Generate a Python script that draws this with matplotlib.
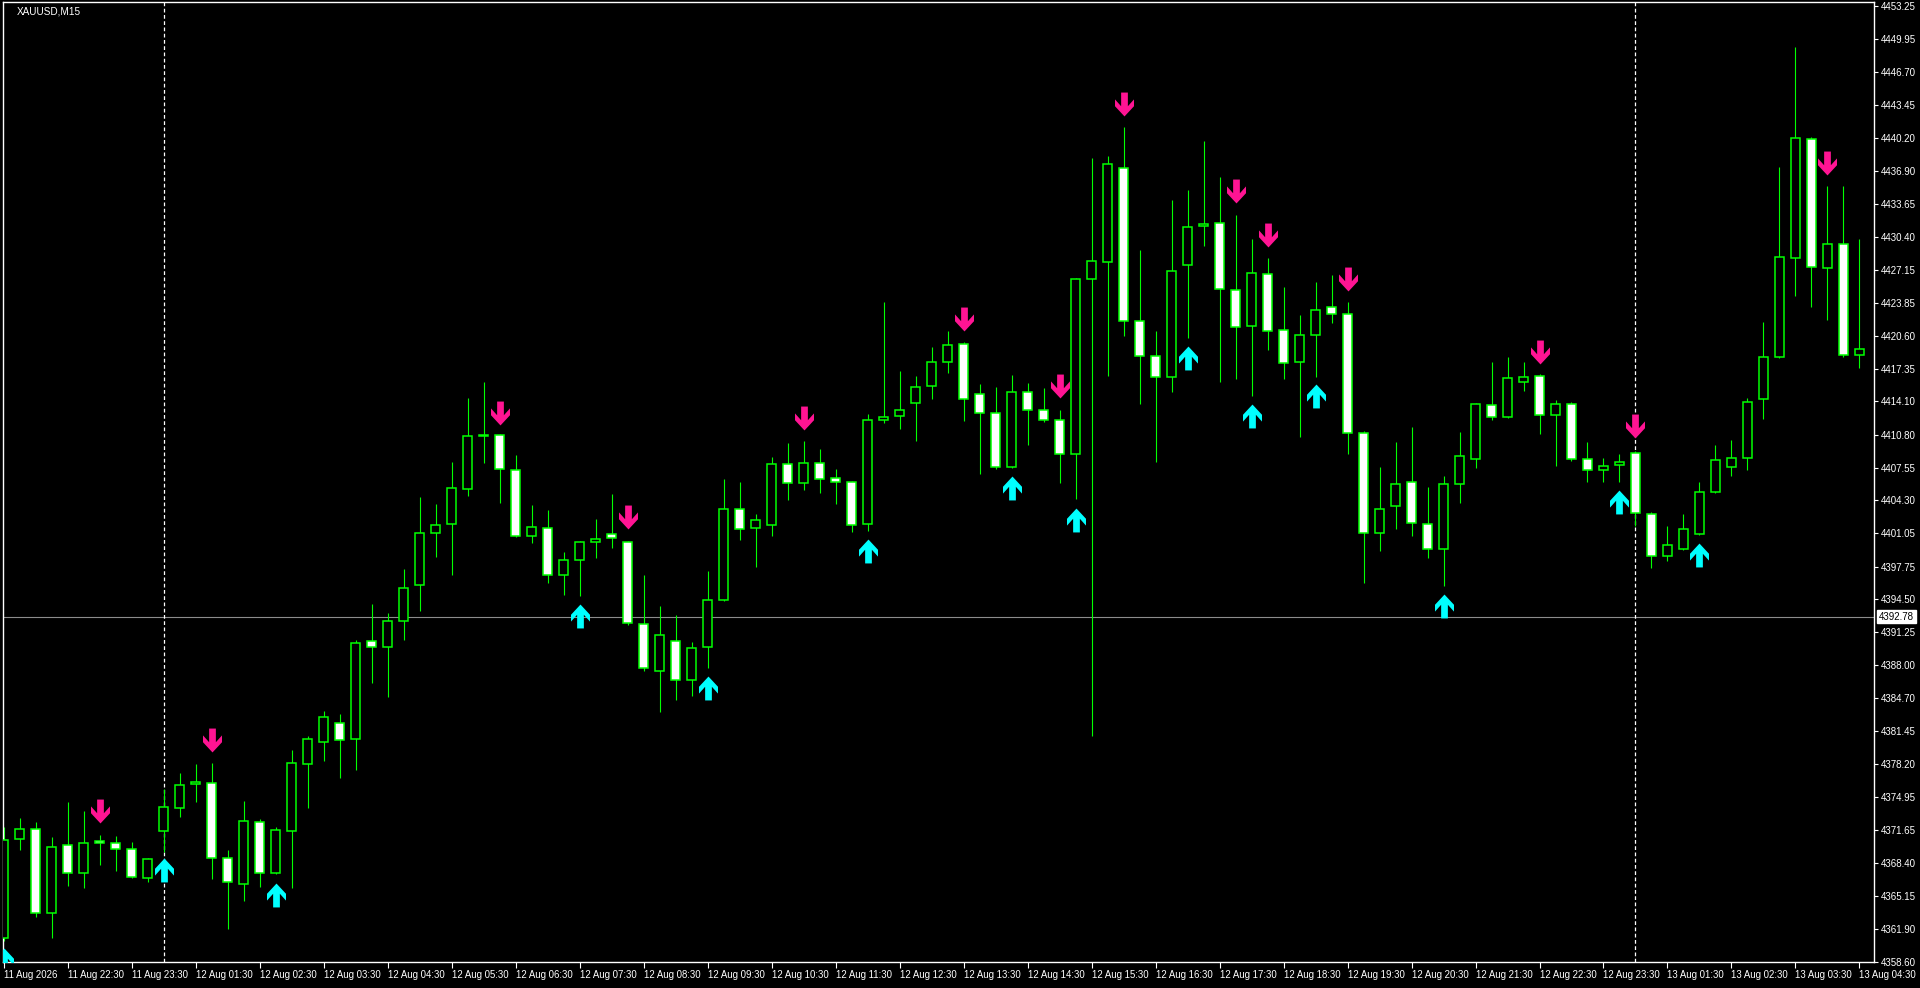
import numpy as np
import matplotlib.pyplot as plt
from matplotlib.path import Path
from matplotlib.transforms import blended_transform_factory

plt.rcParams['font.family'] = ['Liberation Sans', 'DejaVu Sans']

SYMBOL = "XAUUSD,M15"
BID_LEVEL = 4392.78

BULL = '#00FF00'
WICK = '#00FF00'
UP_COL = '#00FFFF'
DOWN_COL = '#FF1493'
LINE_COL = '#8C8C8C'

#===================================================== DATA =====================================================#

opens = [4361.0, 4370.8, 4371.8, 4363.5, 4370.2, 4367.4, 4370.6, 4370.4, 4369.8, 4366.9,
         4371.6, 4373.8, 4376.2, 4376.3, 4368.9, 4366.3, 4372.5, 4367.4, 4371.6, 4378.2,
         4380.4, 4382.3, 4380.7, 4390.4, 4389.8, 4392.4, 4395.9, 4401.1, 4402.0, 4405.4,
         4410.7, 4410.8, 4407.3, 4400.8, 4401.6, 4396.9, 4398.4, 4400.2, 4401.0, 4400.2,
         4392.1, 4387.4, 4390.4, 4386.5, 4389.8, 4394.4, 4403.5, 4401.6, 4401.9, 4407.9,
         4406.0, 4408.0, 4406.5, 4406.1, 4402.0, 4412.3, 4412.7, 4413.9, 4415.6, 4418.0,
         4419.8, 4414.8, 4413.0, 4407.6, 4415.0, 4413.3, 4412.3, 4408.9, 4426.2, 4427.9,
         4437.2, 4422.1, 4418.6, 4416.5, 4427.6, 4431.5, 4431.8, 4425.1, 4421.6, 4426.7,
         4421.2, 4418.0, 4420.7, 4423.5, 4422.8, 4411.0, 4401.1, 4403.7, 4406.1, 4402.0,
         4399.5, 4405.9, 4408.4, 4413.7, 4412.6, 4416.0, 4416.6, 4412.8, 4413.8, 4408.4,
         4407.3, 4407.8, 4409.0, 4403.0, 4398.8, 4399.5, 4401.0, 4405.1, 4407.6, 4408.5,
         4414.3, 4418.5, 4428.3, 4440.1, 4427.3, 4429.7, 4418.7]

highs = [4372.0, 4372.9, 4372.5, 4371.0, 4374.4, 4373.6, 4371.2, 4371.1, 4370.5, 4368.9,
         4375.7, 4377.3, 4378.2, 4378.3, 4369.7, 4374.5, 4372.8, 4372.0, 4379.6, 4381.0,
         4383.5, 4383.2, 4390.5, 4394.0, 4393.2, 4397.5, 4404.6, 4403.9, 4408.1, 4414.4,
         4416.0, 4410.9, 4408.8, 4403.8, 4403.4, 4399.2, 4400.3, 4402.5, 4404.9, 4400.3,
         4396.9, 4393.8, 4393.0, 4390.3, 4397.3, 4406.4, 4406.1, 4403.0, 4408.6, 4410.0,
         4410.2, 4409.4, 4407.4, 4406.2, 4412.9, 4423.9, 4417.1, 4416.6, 4419.5, 4421.1,
         4420.0, 4415.8, 4415.5, 4416.7, 4415.9, 4415.4, 4413.3, 4426.3, 4438.2, 4438.4,
         4441.3, 4429.1, 4421.1, 4434.0, 4435.0, 4439.9, 4436.3, 4432.6, 4430.2, 4428.3,
         4425.4, 4422.7, 4425.9, 4426.6, 4423.9, 4411.2, 4407.6, 4410.1, 4411.6, 4405.6,
         4406.7, 4411.1, 4413.9, 4418.0, 4418.5, 4418.0, 4416.8, 4414.2, 4414.0, 4410.1,
         4408.5, 4408.9, 4409.2, 4403.2, 4401.8, 4403.0, 4406.1, 4409.8, 4410.3, 4414.4,
         4422.0, 4437.3, 4449.2, 4440.3, 4435.4, 4435.4, 4430.2]

lows = [4360.7, 4369.7, 4363.1, 4361.0, 4366.1, 4365.9, 4368.2, 4367.6, 4366.9, 4366.5,
        4369.5, 4373.0, 4374.4, 4366.8, 4361.9, 4364.6, 4366.0, 4367.3, 4365.9, 4373.8,
        4378.5, 4376.8, 4377.6, 4386.2, 4384.8, 4390.5, 4393.4, 4398.7, 4396.9, 4404.7,
        4408.0, 4404.0, 4400.7, 4400.1, 4396.1, 4394.9, 4394.8, 4398.6, 4399.6, 4392.0,
        4387.4, 4383.4, 4384.5, 4384.9, 4387.7, 4394.3, 4400.4, 4397.7, 4400.8, 4404.3,
        4405.3, 4405.0, 4403.9, 4401.2, 4401.3, 4412.0, 4411.4, 4410.2, 4414.3, 4416.9,
        4412.2, 4406.9, 4407.4, 4407.5, 4409.8, 4412.1, 4406.0, 4404.4, 4381.0, 4416.6,
        4420.6, 4413.8, 4408.1, 4415.0, 4420.4, 4429.5, 4416.0, 4416.3, 4414.6, 4419.2,
        4416.3, 4410.6, 4416.5, 4421.9, 4408.9, 4396.1, 4399.3, 4401.5, 4400.8, 4398.6,
        4395.8, 4404.0, 4407.5, 4412.3, 4412.5, 4415.1, 4410.9, 4407.7, 4408.2, 4406.1,
        4406.1, 4406.1, 4401.8, 4397.6, 4398.3, 4399.4, 4400.9, 4405.0, 4406.7, 4407.3,
        4412.4, 4418.4, 4424.5, 4423.5, 4422.2, 4418.5, 4417.4]

closes = [4370.7, 4371.8, 4363.5, 4370.0, 4367.4, 4370.4, 4370.4, 4369.8, 4367.0, 4368.8,
          4373.9, 4376.1, 4376.4, 4368.9, 4366.5, 4372.6, 4367.4, 4371.7, 4378.3, 4380.7,
          4382.9, 4380.6, 4390.2, 4389.8, 4392.4, 4395.6, 4401.1, 4401.9, 4405.5, 4410.7,
          4410.75, 4407.4, 4400.8, 4401.7, 4396.9, 4398.4, 4400.2, 4400.5, 4400.6, 4392.2,
          4387.7, 4391.0, 4386.5, 4389.7, 4394.4, 4403.5, 4401.5, 4402.4, 4407.9, 4406.0,
          4408.0, 4406.4, 4406.1, 4401.9, 4412.3, 4412.6, 4413.3, 4415.5, 4418.0, 4419.7,
          4414.3, 4413.0, 4407.6, 4415.0, 4413.3, 4412.3, 4408.9, 4426.2, 4428.0, 4437.6,
          4422.1, 4418.6, 4416.5, 4427.0, 4431.4, 4431.7, 4425.2, 4421.5, 4426.8, 4421.1,
          4417.9, 4420.7, 4423.2, 4422.8, 4411.0, 4401.1, 4403.5, 4405.9, 4402.1, 4399.5,
          4405.9, 4408.7, 4413.8, 4412.6, 4416.4, 4416.5, 4412.8, 4413.8, 4408.4, 4407.3,
          4407.7, 4408.1, 4403.1, 4398.8, 4399.9, 4401.5, 4405.1, 4408.3, 4408.5, 4414.0,
          4418.5, 4428.4, 4440.2, 4427.4, 4429.7, 4418.7, 4419.3]

# signal arrows (bar index, price at arrow centre)
up_bars = [0, 10, 17, 36, 44, 54, 63, 67, 74, 78, 82, 90, 101, 106]
up_prices = [4358.8, 4367.7, 4365.2, 4392.9, 4385.7, 4399.3, 4405.5, 4402.4, 4418.4,
             4412.7, 4414.6, 4393.8, 4404.1, 4398.9]
down_bars = [6, 13, 31, 39, 50, 60, 66, 70, 77, 79, 84, 96, 102, 114]
down_prices = [4373.6, 4380.6, 4413.0, 4402.7, 4412.5, 4422.3, 4415.6, 4443.6, 4434.9,
               4430.6, 4426.2, 4419.0, 4411.7, 4437.7]

day_breaks = [10, 102]

time_labels = ["11 Aug 2026", "11 Aug 22:30", "11 Aug 23:30",
               "12 Aug 01:30", "12 Aug 02:30", "12 Aug 03:30", "12 Aug 04:30", "12 Aug 05:30",
               "12 Aug 06:30", "12 Aug 07:30", "12 Aug 08:30", "12 Aug 09:30", "12 Aug 10:30",
               "12 Aug 11:30", "12 Aug 12:30", "12 Aug 13:30", "12 Aug 14:30", "12 Aug 15:30",
               "12 Aug 16:30", "12 Aug 17:30", "12 Aug 18:30", "12 Aug 19:30", "12 Aug 20:30",
               "12 Aug 21:30", "12 Aug 22:30", "12 Aug 23:30",
               "13 Aug 01:30", "13 Aug 02:30", "13 Aug 03:30", "13 Aug 04:30"]

price_ticks = [4453.25, 4449.95, 4446.70, 4443.45, 4440.20, 4436.90, 4433.65, 4430.40,
               4427.15, 4423.85, 4420.60, 4417.35, 4414.10, 4410.80, 4407.55, 4404.30,
               4401.05, 4397.75, 4394.50, 4391.25, 4388.00, 4384.70, 4381.45, 4378.20,
               4374.95, 4371.65, 4368.40, 4365.15, 4361.90, 4358.60]

#=================================================== ARROW MARKERS ===================================================#

def arrow_marker(direction: int):
    pts = [(-3.3, 11.7), (3.3, 11.7), (3.3, -1.7), (9.3, 5.0), (9.3, -1.7), (0.0, -11.7),
           (-9.3, -1.7), (-9.3, 5.0), (-3.3, -1.7), (-3.3, 11.7)]
    verts = [(x, y * direction) for x, y in pts]
    codes = [Path.MOVETO] + [Path.LINETO] * (len(verts) - 2) + [Path.CLOSEPOLY]
    return Path(verts, codes)

#===================================================== PLOT =====================================================#

W, H = 1920, 988
fig = plt.figure(figsize=(W / 100, H / 100), dpi=100, facecolor='black')
ax = fig.add_axes([3 / W, 26 / H, 1871 / W, 960 / H])
ax.set_facecolor('black')

o = np.array(opens)
h = np.array(highs)
l = np.array(lows)
c = np.array(closes)
x = np.arange(len(o))

ax.axhline(BID_LEVEL, color=LINE_COL, lw=0.8, zorder=1)
for b in day_breaks:
    ax.axvline(b, color='white', lw=0.9, ls=(0, (3, 2)), zorder=1)

ax.vlines(x, l, h, color=WICK, lw=0.8, zorder=2)
bull = c >= o
fill = np.where(bull, 'black', 'white')
ax.bar(x, np.abs(c - o), bottom=np.minimum(o, c), width=0.56, color=fill,
       edgecolor=BULL, linewidth=1.1, zorder=3)

ax.plot(up_bars, up_prices, ls='', marker=arrow_marker(-1), markersize=17.2,
        color=UP_COL, markeredgewidth=0, zorder=4)
ax.plot(down_bars, down_prices, ls='', marker=arrow_marker(1), markersize=17.2,
        color=DOWN_COL, markeredgewidth=0, zorder=4)

ax.set_xlim(-0.05, 116.91)
ax.set_ylim(4358.6, 4453.65)

for s in ax.spines.values():
    s.set_color('white')
    s.set_linewidth(1.0)

ax.yaxis.tick_right()
ax.set_yticks(price_ticks)
ax.set_yticklabels([f"{p:.2f}" for p in price_ticks])
ax.tick_params(axis='y', colors='white', length=3, width=0.8, pad=2, labelsize=7.0)

ax.set_xticks(np.arange(0, len(o), 4))
ax.set_xticklabels(time_labels)
ax.tick_params(axis='x', colors='white', length=4, width=0.8, pad=2, labelsize=6.9)
for lbl in ax.get_xticklabels():
    lbl.set_ha('left')

trans = blended_transform_factory(fig.transFigure, ax.transData)
fig.text(1879 / W, BID_LEVEL, f"{BID_LEVEL:.2f}", transform=trans, ha='left', va='center',
         color='black', fontsize=7.0,
         bbox=dict(facecolor='white', edgecolor='white', pad=1.2))

fig.text(17 / W, 1 - 11 / H, SYMBOL, ha='left', va='center', color='white', fontsize=7.2)

fig.savefig('out.png', dpi=100, facecolor='black')
